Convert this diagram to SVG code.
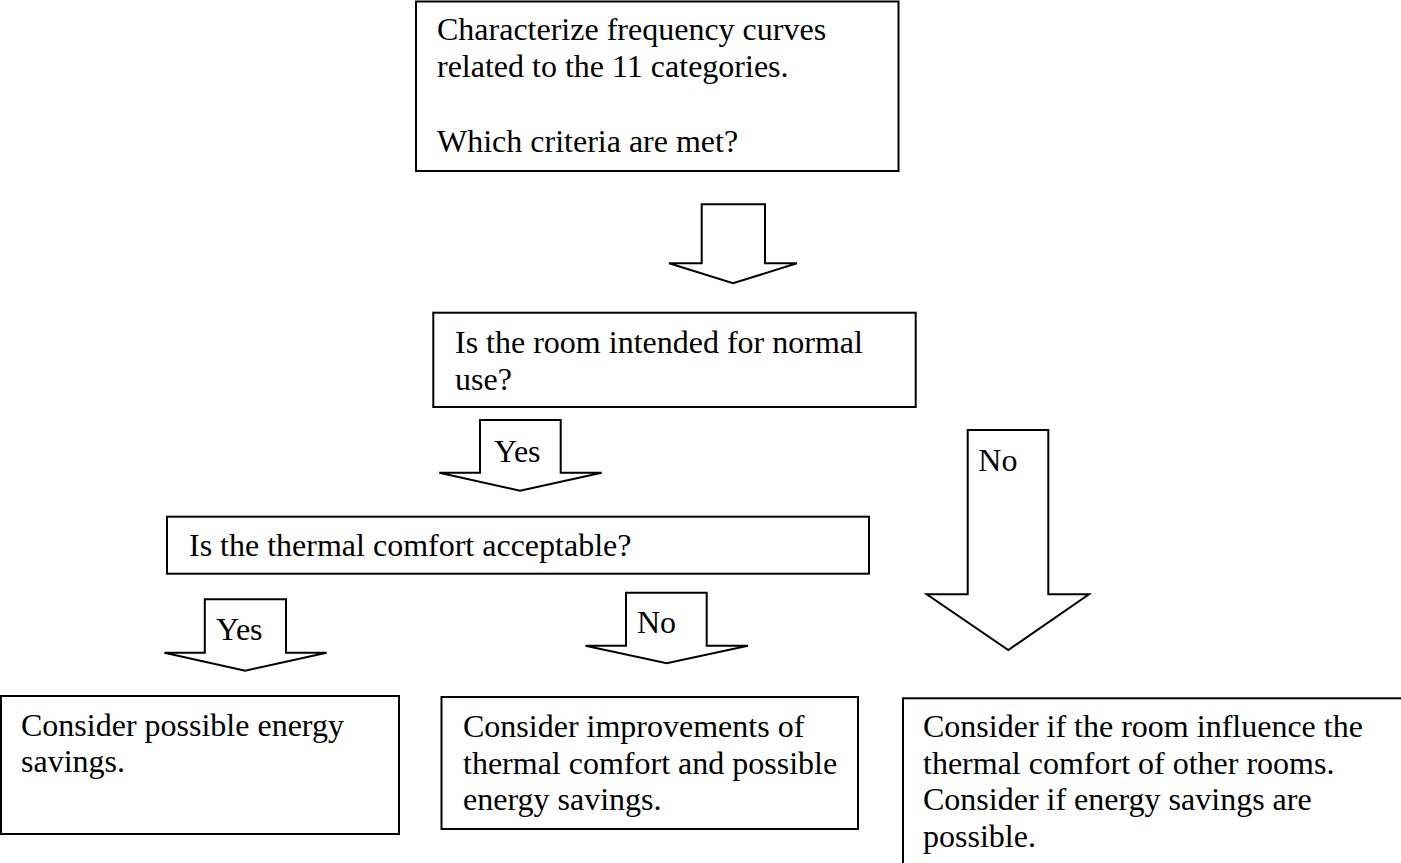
<svg xmlns="http://www.w3.org/2000/svg" width="1401" height="863" viewBox="0 0 1401 863">
<style>
.box{fill:#fff;stroke:#000;stroke-width:2}
.arr{fill:#fff;stroke:#000;stroke-width:2;stroke-linejoin:miter}
text{font-family:"Liberation Serif","Times New Roman",serif;font-size:32px;fill:#000}
</style>
<rect width="1401" height="863" fill="#fff"/>
<g id="connectors">
<polygon class="arr" points="701.7,204.3 765,204.3 765,263.3 797,263.3 733,283.3 669,263.3 701.7,263.3"/>
<g id="yes1"><polygon class="arr" points="480,420 560.7,420 560.7,472.7 601.7,472.7 520,490.7 439.3,472.7 480,472.7"/><text x="494" y="461.5">Yes</text></g>
<g id="no1"><polygon class="arr" points="967.7,430 1048.3,430 1048.3,594.3 1089,594.3 1008.3,650 926.7,594.3 967.7,594.3"/><text x="978.3" y="470.7">No</text></g>
<g id="yes2"><polygon class="arr" points="204.8,599.3 286,599.3 286,652.7 326.6,652.7 245.2,670.7 164.4,652.7 204.8,652.7"/><text x="216" y="640">Yes</text></g>
<g id="no2"><polygon class="arr" points="626,592.7 706.7,592.7 706.7,645.7 748,645.7 666.7,663.3 585.5,645.7 626,645.7"/><text x="637" y="633.3">No</text></g>
</g>
<g id="n1"><rect class="box" x="416" y="1.5" width="482.5" height="169.5"/>
<text x="437" y="40">Characterize frequency curves</text>
<text x="437" y="77">related to the 11 categories.</text>
<text x="437" y="151.5">Which criteria are met?</text></g>
<g id="n2"><rect class="box" x="433.3" y="312.7" width="482.4" height="94.3"/>
<text x="455" y="353">Is the room intended for normal</text>
<text x="455" y="389.5">use?</text></g>
<g id="n3"><rect class="box" x="167" y="516.7" width="702" height="57"/>
<text x="189" y="556">Is the thermal comfort acceptable?</text></g>
<g id="n4"><rect class="box" x="1" y="696" width="398" height="138"/>
<text x="21" y="736">Consider possible energy</text>
<text x="21" y="772">savings.</text></g>
<g id="n5"><rect class="box" x="441.5" y="697" width="416.5" height="132"/>
<text x="463" y="737">Consider improvements of</text>
<text x="463" y="773.5">thermal comfort and possible</text>
<text x="463" y="810">energy savings.</text></g>
<g id="n6"><rect class="box" x="903" y="698.3" width="520" height="220"/>
<text x="923" y="737">Consider if the room influence the</text>
<text x="923" y="773.5">thermal comfort of other rooms.</text>
<text x="923" y="810">Consider if energy savings are</text>
<text x="923" y="847">possible.</text></g>
</svg>
